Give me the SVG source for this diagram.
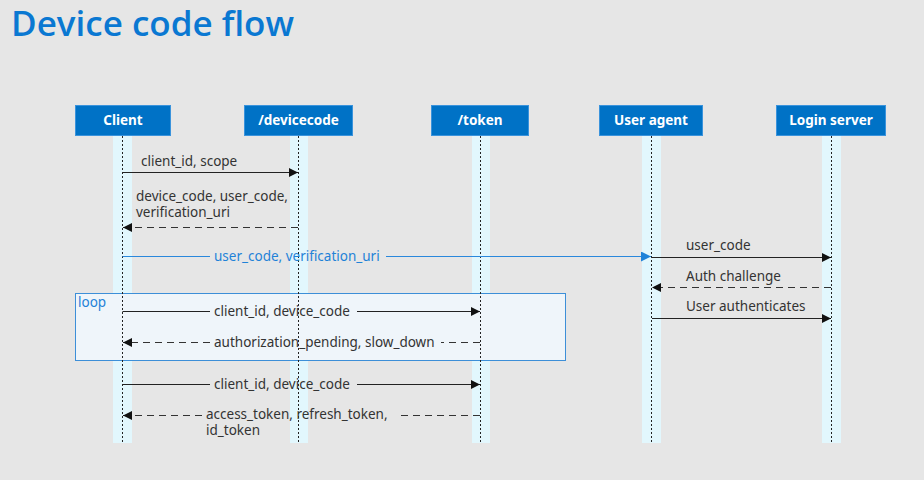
<svg xmlns="http://www.w3.org/2000/svg" width="924" height="480" viewBox="0 0 924 480">
<defs>
<style>
.title{font-family:"Open Sans","Noto Sans",sans-serif;font-size:35px;font-weight:600;fill:#0a78d2}
.hdr{fill:#0072c6;stroke:#3a93dc;stroke-width:1}
.hdrt{font-family:"Noto Sans","Open Sans",sans-serif;font-size:13.5px;font-weight:bold;fill:#fff;text-anchor:middle}
.band{fill:#e2f7fd}
.life{stroke:#222;stroke-width:1;stroke-dasharray:2 2}
.msg{font-family:"Noto Sans","Open Sans",sans-serif;font-size:13.5px;fill:#333}
.blue{fill:#1f82d8}
.sol{stroke:#222;stroke-width:1.2;fill:none}
.dsh{stroke:#333;stroke-width:1.2;fill:none;stroke-dasharray:7 5}
.bl{stroke:#2a88dc;stroke-width:1.2;fill:none}
.loop{fill:#eff5fa;stroke:#3d8fd8;stroke-width:1}
</style>
<marker id="ah" viewBox="0 0 10 10" refX="10" refY="5" markerWidth="9" markerHeight="9" markerUnits="userSpaceOnUse" orient="auto"><path d="M0,0 L10,5 L0,10 z" fill="#111"/></marker>
<marker id="ahb" viewBox="0 0 10 10" refX="10" refY="5" markerWidth="10" markerHeight="10" markerUnits="userSpaceOnUse" orient="auto"><path d="M0,0 L10,5 L0,10 z" fill="#1f82d8"/></marker>
</defs>
<rect x="0" y="0" width="924" height="480" fill="#e6e6e6"/>
<text class="title" x="11" y="36">Device code flow</text>

<g id="lifelines">
<rect class="band" x="113" y="136" width="19" height="307"/>
<rect class="band" x="290" y="136" width="18" height="307"/>
<rect class="band" x="472" y="136" width="18" height="307"/>
<rect class="band" x="642" y="136" width="19" height="307"/>
<rect class="band" x="822" y="136" width="19" height="307"/>
</g>

<g id="loop">
<rect class="loop" x="75.5" y="293.5" width="490" height="67"/>
<text class="msg blue" x="78" y="307">loop</text>
</g>

<g id="lines">
<line class="life" x1="122.5" y1="136" x2="122.5" y2="443"/>
<line class="life" x1="298.5" y1="136" x2="298.5" y2="443"/>
<line class="life" x1="480.5" y1="136" x2="480.5" y2="443"/>
<line class="life" x1="651.5" y1="136" x2="651.5" y2="443"/>
<line class="life" x1="831.5" y1="136" x2="831.5" y2="443"/>
</g>

<g id="client"><rect class="hdr" x="75.5" y="105.5" width="95" height="30"/><text class="hdrt" x="123" y="125">Client</text></g>
<g id="devicecode"><rect class="hdr" x="244.5" y="105.5" width="108" height="30"/><text class="hdrt" x="298.5" y="125">/devicecode</text></g>
<g id="token"><rect class="hdr" x="431.5" y="105.5" width="97" height="30"/><text class="hdrt" x="480" y="125">/token</text></g>
<g id="useragent"><rect class="hdr" x="599.5" y="105.5" width="103" height="30"/><text class="hdrt" x="651" y="125">User agent</text></g>
<g id="loginserver"><rect class="hdr" x="776.5" y="105.5" width="109" height="30"/><text class="hdrt" x="831" y="125">Login server</text></g>

<g id="connectors">
<line class="sol" x1="122.5" y1="172.5" x2="298" y2="172.5" marker-end="url(#ah)"/>
<line class="dsh" x1="298" y1="227.5" x2="123" y2="227.5" marker-end="url(#ah)"/>
<line class="bl" x1="122.5" y1="256.5" x2="210" y2="256.5"/>
<line class="bl" x1="386" y1="256.5" x2="651" y2="256.5" marker-end="url(#ahb)"/>
<line class="sol" x1="652" y1="257.5" x2="831" y2="257.5" marker-end="url(#ah)"/>
<line class="dsh" x1="831" y1="287.5" x2="652" y2="287.5" marker-end="url(#ah)"/>
<line class="sol" x1="652" y1="318.5" x2="831" y2="318.5" marker-end="url(#ah)"/>
<line class="sol" x1="122.5" y1="311.5" x2="210" y2="311.5"/>
<line class="sol" x1="357" y1="311.5" x2="480" y2="311.5" marker-end="url(#ah)"/>
<line class="dsh" x1="480" y1="342.5" x2="441" y2="342.5"/>
<line class="dsh" x1="210" y1="342.5" x2="123" y2="342.5" marker-end="url(#ah)"/>
<line class="sol" x1="122.5" y1="384.5" x2="210" y2="384.5"/>
<line class="sol" x1="357" y1="384.5" x2="480" y2="384.5" marker-end="url(#ah)"/>
<line class="dsh" x1="480" y1="415.5" x2="401" y2="415.5"/>
<line class="dsh" x1="202" y1="415.5" x2="123" y2="415.5" marker-end="url(#ah)"/>
</g>

<g id="labels">
<text class="msg" x="141" y="166">client_id, scope</text>
<text class="msg" x="136" y="201">device_code, user_code,<tspan x="136" dy="16">verification_uri</tspan></text>
<text class="msg blue" x="214" y="261">user_code, verification_uri</text>
<text class="msg" x="686" y="250">user_code</text>
<text class="msg" x="686" y="281">Auth challenge</text>
<text class="msg" x="686" y="311">User authenticates</text>
<text class="msg" x="214" y="316">client_id, device_code</text>
<text class="msg" x="214" y="347">authorization_pending, slow_down</text>
<text class="msg" x="214" y="389">client_id, device_code</text>
<text class="msg" x="206" y="419">access_token, refresh_token,<tspan x="206" dy="16">id_token</tspan></text>
</g>
</svg>
